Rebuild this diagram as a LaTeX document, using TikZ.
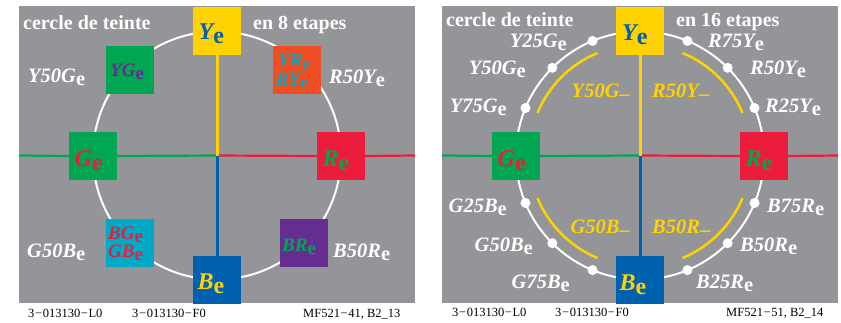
\documentclass[tikz,border=0pt]{standalone}
\usepackage{fontspec}
\setmainfont{Liberation Serif}
\definecolor{cgray}{RGB}{147,149,152}
\definecolor{cY}{RGB}{255,210,0}
\definecolor{cB}{RGB}{0,97,175}
\definecolor{cG}{RGB}{0,166,81}
\definecolor{cR}{RGB}{237,28,58}
\definecolor{cO}{RGB}{240,78,35}
\definecolor{cC}{RGB}{0,169,198}
\definecolor{cP}{RGB}{102,45,145}
\newcommand\E{\raisebox{-0.18em}{\upshape e}}
\newcommand\dsh{\raisebox{-0.15em}{\upshape –}}
\newcommand\mn{\kern0.05em−\kern0.05em}
\tikzset{
 bx/.style={minimum width=48pt, minimum height=48pt, inner sep=0pt, outer sep=0pt},
 bl/.style={anchor=base west, inner sep=0pt, font=\bfseries\itshape\fontsize{19}{19}\selectfont},
 big/.style={anchor=base west, inner sep=0pt, font=\bfseries\itshape\fontsize{24}{24}\selectfont},
 labw/.style={anchor=base west, inner sep=0pt, text=white, font=\bfseries\itshape\fontsize{20.5}{20.5}\selectfont},
 labe/.style={anchor=base east, inner sep=0pt, text=white, font=\bfseries\itshape\fontsize{20.5}{20.5}\selectfont},
 ttl/.style={anchor=base west, inner sep=0pt, text=white, font=\bfseries\fontsize{20}{20}\selectfont},
 ftr/.style={anchor=base west, inner sep=0pt, font=\fontsize{12.5}{12.5}\selectfont},
 ring/.style={white, line width=2pt},
 hline/.style={line width=2.2pt},
 vline/.style={line width=3pt},
 wdot/.style={circle, fill=white, minimum size=10pt, inner sep=0pt},
 yarc/.style={cY, line width=2.5pt},
}
\begin{document}
\begin{tikzpicture}[x=1pt,y=-1pt]
\useasboundingbox (0,0) rectangle (841,322);
% ================= left panel =================
\fill[cgray] (19,6) rectangle (415,303);
\coordinate (cL) at (217,155.5);
\coordinate (lW) at (19,155.5);
\coordinate (lE) at (415,155.5);
\draw[ring] (cL) circle[radius=124];
\node[bx, fill=cY] (YL) at (217,30.5) {};
\node[bx, fill=cG] (GL) at (93,156) {};
\node[bx, fill=cR] (RL) at (341,156) {};
\node[bx, fill=cB] (BL) at (217,279.5) {};
\node[bx, fill=cG] (YGL) at (130,70) {};
\node[bx, fill=cO] (YRL) at (297,70) {};
\node[bx, fill=cC] (BGL) at (130,243) {};
\node[bx, fill=cP] (BRL) at (304,243) {};
\draw[hline, cG] (lW) -- (GL.west) (GL.east) -- (cL);
\draw[hline, cR] (cL) -- (RL.west) (RL.east) -- (lE);
\draw[vline, cY] (YL.south) -- (cL);
\draw[vline, cB] (cL) -- (BL.north);
\node[big, text=cB] (tYL) at (198.5,39.5) {Y\E};
\node[big, text=cR] (tGL) at (74.5,166) {G\E};
\node[big, text=cG] (tRL) at (322.5,166) {R\E};
\node[big, text=cY] (tBL) at (197.5,289) {B\E};
\node[bl, text=cP] (tYGL) at (110,76) {YG\E};
\node[bl, text=cC] (tYRL) at (278,66.7) {YR\E};
\node[bl, text=cC] (tRYL) at (276,85) {RY\E};
\node[bl, text=cR] (tBGL) at (108,239) {BG\E};
\node[bl, text=cR] (tGBL) at (108,257) {GB\E};
\node[bl, text=cG] (tBRL) at (282,251) {BR\E};
\node[labw] (l1) at (28,82) {Y50G\E};
\node[labw] (l2) at (329,83) {R50Y\E};
\node[labw] (l3) at (27,257) {G50B\E};
\node[labw] (l4) at (333,257) {B50R\E};
\node[ttl] (tt1) at (23,29) {cercle de teinte};
\node[ttl] (tt2) at (253,29) {en 8 etapes};
\node[ftr] (f1) at (28,317) {3\mn013130\mn L0};
\node[ftr] (f2) at (132,317) {3\mn013130\mn F0};
\node[ftr] (f3) at (303,317) {MF521\mn41, B2\_13};
% ================= right panel =================
\fill[cgray] (442,6) rectangle (838,303);
\coordinate (cR) at (640,155.5);
\coordinate (rW) at (442,155.5);
\coordinate (rE) at (838,155.5);
\draw[ring] (cR) circle[radius=124];
\foreach \a in {22.5,45,67.5,112.5,135,157.5,202.5,225,247.5,292.5,315,337.5}
  \node[wdot] (d\a) at ([shift={(cR)}]-\a:124) {};
\foreach \a in {22.5,112.5,202.5,292.5}
  \draw[yarc] ([shift={(cR)}]-\a:111) arc[start angle=-\a, end angle=-\a-45, radius=111];
\node[bx, fill=cY] (YR) at (640,30.5) {};
\node[bx, fill=cG] (GR) at (516,156) {};
\node[bx, fill=cR] (RR) at (764,156) {};
\node[bx, fill=cB] (BR) at (640,279.5) {};
\draw[hline, cG] (rW) -- (GR.west) (GR.east) -- (cR);
\draw[hline, cR] (cR) -- (RR.west) (RR.east) -- (rE);
\draw[vline, cY] (YR.south) -- (cR);
\draw[vline, cB] (cR) -- (BR.north);
\node[big, text=cB] (tYR) at (622,40) {Y\E};
\node[big, text=cR] (tGR) at (497.5,166) {G\E};
\node[big, text=cG] (tRR) at (745.5,166) {R\E};
\node[big, text=cY] (tBR) at (619.5,290) {B\E};
\node[labe] (m1) at (567,47) {Y25G\E};
\node[labe] (m2) at (526,74) {Y50G\E};
\node[labe] (m3) at (507,112) {Y75G\E};
\node[labe] (m4) at (507,212) {G25B\E};
\node[labe] (m5) at (533,251) {G50B\E};
\node[labe] (m6) at (570,288) {G75B\E};
\node[labw] (m7) at (708,47) {R75Y\E};
\node[labw] (m8) at (750,74) {R50Y\E};
\node[labw] (m9) at (765,112) {R25Y\E};
\node[labw] (m10) at (767,212) {B75R\E};
\node[labw] (m11) at (740,251) {B50R\E};
\node[labw] (m12) at (696,288) {B25R\E};
\node[labe, text=cY] (y1) at (630,97) {Y50G\dsh};
\node[labw, text=cY] (y2) at (652,97) {R50Y\dsh};
\node[labe, text=cY] (y3) at (630,233) {G50B\dsh};
\node[labw, text=cY] (y4) at (652,233) {B50R\dsh};
\node[ttl] (tt3) at (446,26) {cercle de teinte};
\node[ttl] (tt4) at (676,26) {en 16 etapes};
\node[ftr] (f4) at (452,316) {3\mn013130\mn L0};
\node[ftr] (f5) at (555,316) {3\mn013130\mn F0};
\node[ftr] (f6) at (726,316) {MF521\mn51, B2\_14};
\end{tikzpicture}
\end{document}
